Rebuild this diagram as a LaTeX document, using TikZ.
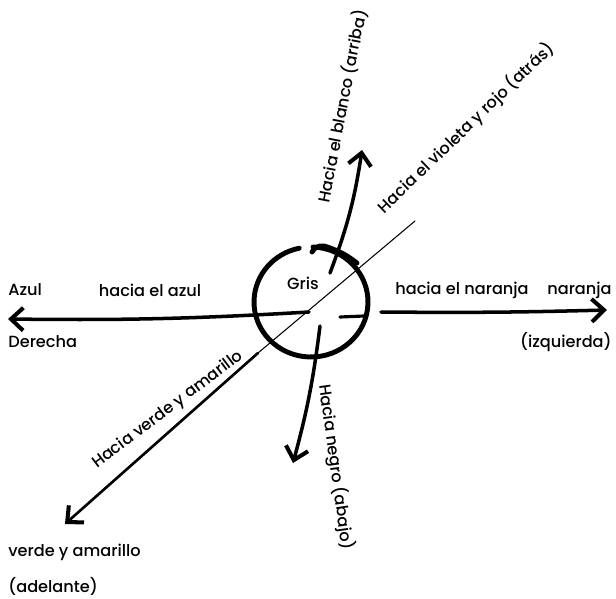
\documentclass[tikz,border=0pt]{standalone}
\usepackage{fontspec}
\setmainfont{Poppins}[UprightFont={* Medium}]
\usetikzlibrary{arrows.meta,positioning}

\begin{document}
\begin{tikzpicture}[x=0.02cm,y=-0.02cm,
    every node/.style={font=\fontsize{9.2}{11}\selectfont, inner sep=0pt},
    eje/.style={line width=2pt, line cap=round,
      -{Straight Barb[length=7pt,width=13pt,line width=2.3pt]}},
    ejefino/.style={line width=0.6pt, line cap=round},
    esfera/.style={line width=2.8pt, line cap=round}]
  \useasboundingbox (0,0) rectangle (616,599);

  % puntos de los ejes
  \coordinate (centro) at (311,302);
  \coordinate (pAzul) at (8,319);
  \coordinate (pNaranja) at (607,310);
  \coordinate (pBlanco) at (362,150);
  \coordinate (pNegro) at (293,463);
  \coordinate (pVioleta) at (415,221);
  \coordinate (pCruce) at (258,353);
  \coordinate (pVerde) at (65,524);

  % la esfera gris
  \draw[esfera] (centro) ++(-88:57 and 55) arc[start angle=-88, end angle=258,
    x radius=57, y radius=55];
  \draw[esfera] (312,252) to[bend left=35] (324,246) to[bend left=10] (357,263);
  \draw[line width=1.8pt, line cap=round] (340,317) -- (364,316);
  \node (gris) at (303,283) {Gris};

  % ejes
  \draw[eje] (309,312) to[bend left=2] (pAzul);
  \draw[eje] (381,312) to[bend right=1] (pNaranja);
  \draw[eje] (330,273) to[bend right=6] (pBlanco);
  \draw[eje] (320,326) to[bend left=4] (pNegro);
  \draw[ejefino] (pVioleta) -- (pCruce);
  \draw[eje, line width=1.5pt] (pCruce) -- (pVerde);

  % textos
  \node[anchor=west] (azul) at (8,290) {Azul};
  \node (haciaAzul) at (150,290) {hacia el azul};
  \node[anchor=west] (derecha) at (8,342) {Derecha};
  \node (haciaNaranja) at (462,290) {hacia el naranja};
  \node[anchor=east] (naranja) at (612,290) {naranja};
  \node[anchor=east] (izquierda) at (612,342) {(izquierda)};
  \node[anchor=west] (verde) at (8,552) {verde y amarillo};
  \node[anchor=west] (adelante) at (8,586) {(adelante)};
  \node[rotate=79] (haciaBlanco) at (342,106) {Hacia el blanco (arriba)};
  \node[rotate=44] (haciaVioleta) at (466,128) {Hacia el violeta y rojo (atrás)};
  \node[rotate=37] (haciaVerde) at (168,410) {Hacia verde y amarillo};
  \node[rotate=-82] (haciaNegro) at (336,467) {Hacia negro (abajo)};
\end{tikzpicture}
\end{document}
